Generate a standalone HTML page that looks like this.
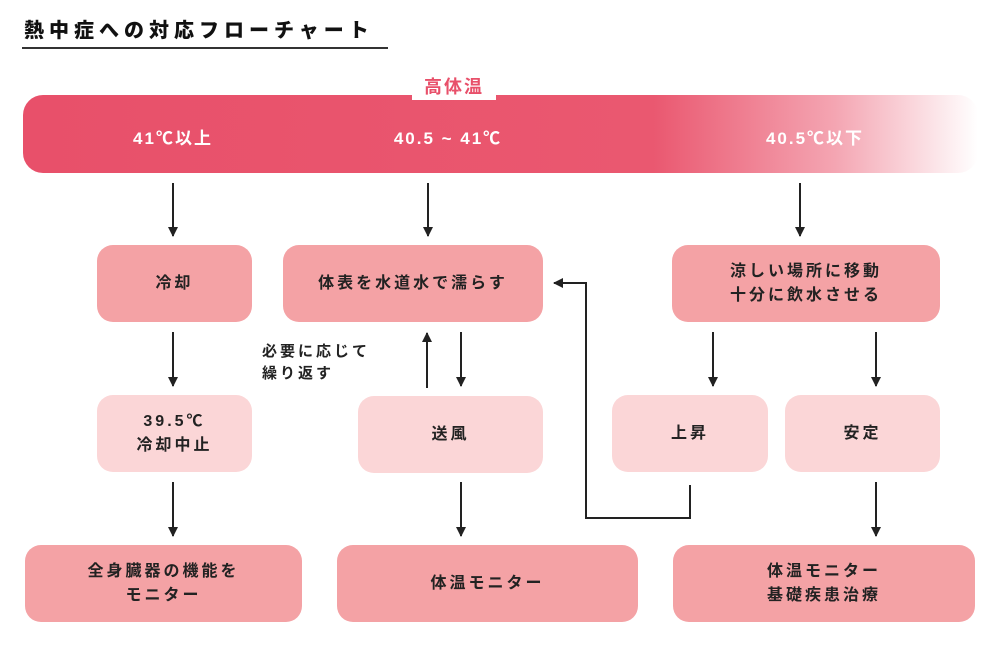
<!DOCTYPE html>
<html><head><meta charset="utf-8"><style>
body{margin:0;width:1000px;height:660px;background:#fff;position:relative;overflow:hidden;font-family:"Liberation Sans","Noto Sans CJK JP",sans-serif;font-weight:bold;color:#222}
.b{position:absolute;border-radius:16px;display:flex;align-items:center;justify-content:center;text-align:center;font-size:16px;letter-spacing:3px;line-height:24px}
.d{background:#f4a2a5}.l{background:#fbd6d7}
.t{position:absolute;white-space:nowrap}
</style></head><body>
<div class="t" style="left:24px;top:14px;font-size:20px;letter-spacing:5px;color:#111;font-weight:900">熱中症への対応フローチャート</div>
<div style="position:absolute;left:22px;top:47px;width:366px;height:2px;background:#333"></div>
<div style="position:absolute;left:23px;top:95px;width:955px;height:78px;border-radius:20px;background:linear-gradient(to right,#e8506a 0%,#ea5870 66%,#f4a5b2 85%,#fff 100%)"></div>
<div class="t" style="left:412px;top:74px;width:84px;height:26px;background:#fff;color:#e8506a;font-size:18px;text-align:center;line-height:26px;letter-spacing:2px">高体温</div>
<div class="t" style="left:118px;top:124px;width:110px;text-align:center;color:#fff;font-size:17px;letter-spacing:2px">41℃以上</div>
<div class="t" style="left:368px;top:124px;width:160px;text-align:center;color:#fff;font-size:17px;letter-spacing:2px">40.5 ~ 41℃</div>
<div class="t" style="left:745px;top:124px;width:140px;text-align:center;color:#fff;font-size:17px;letter-spacing:2px">40.5℃以下</div>

<div class="b d" style="left:97px;top:245px;width:155px;height:77px">冷却</div>
<div class="b d" style="left:283px;top:245px;width:260px;height:77px">体表を水道水で濡らす</div>
<div class="b d" style="left:672px;top:245px;width:268px;height:77px">涼しい場所に移動<br>十分に飲水させる</div>
<div class="b l" style="left:97px;top:395px;width:155px;height:77px">39.5℃<br>冷却中止</div>
<div class="b l" style="left:358px;top:396px;width:185px;height:77px">送風</div>
<div class="b l" style="left:612px;top:395px;width:156px;height:77px">上昇</div>
<div class="b l" style="left:785px;top:395px;width:155px;height:77px">安定</div>
<div class="b d" style="left:25px;top:545px;width:277px;height:77px">全身臓器の機能を<br>モニター</div>
<div class="b d" style="left:337px;top:545px;width:301px;height:77px">体温モニター</div>
<div class="b d" style="left:673px;top:545px;width:302px;height:77px">体温モニター<br>基礎疾患治療</div>
<div class="t" style="left:262px;top:341px;font-size:15px;letter-spacing:3px;line-height:22px">必要に応じて<br>繰り返す</div>

<svg width="1000" height="660" style="position:absolute;left:0;top:0" fill="none" stroke="#222" stroke-width="2">
<defs><marker id="a" markerWidth="10" markerHeight="10" refX="9" refY="5" orient="auto" markerUnits="userSpaceOnUse" viewBox="0 0 10 10"><path d="M0,0L10,5L0,10z" fill="#222" stroke="none"/></marker></defs>
<g marker-end="url(#a)">
<path d="M173 183V236"/><path d="M428 183V236"/><path d="M800 183V236"/>
<path d="M173 332V386"/><path d="M173 482V536"/>
<path d="M427 388V333"/><path d="M461 332V386"/><path d="M461 482V536"/>
<path d="M713 332V386"/><path d="M876 332V386"/><path d="M876 482V536"/>
<path d="M690 485V518H586V283H554"/>
</g></svg>
</body></html>
